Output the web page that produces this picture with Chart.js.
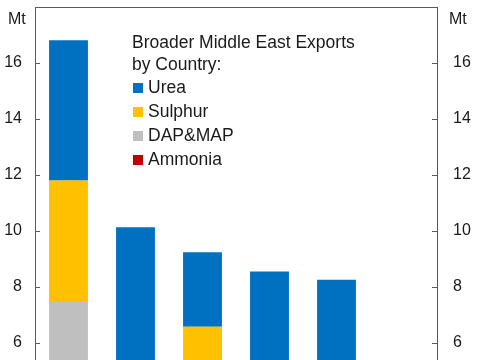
<!DOCTYPE html>
<html>
<head>
<meta charset="utf-8">
<script src="https://cdn.jsdelivr.net/npm/chart.js@4/dist/chart.umd.min.js"></script>
<style>
    html, body { margin: 0; padding: 0; background: #fff; }
    body { width: 485px; height: 360px; overflow: hidden; position: relative;
           font-family: 'Liberation Sans', Arial, sans-serif; color: #1a1a1a; }
    #c { position: absolute; left: 0; top: 0; }
    .unit { position: absolute; top: 11px; font-size: 16px; line-height: 16px; }
    #legend { position: absolute; left: 132px; top: 31px; font-size: 17.5px; }
    #legend .ttl { line-height: 22px; }
    #legend .item { line-height: 24px; position: relative; padding-left: 16px; }
    #legend .item span.box { position: absolute; left: 1px; top: 8px; width: 10px; height: 10px; }
</style>
</head>
<body>
<canvas id="c" width="485" height="531"></canvas>
<div class="unit" style="left:8px">Mt</div>
<div class="unit" style="left:449px">Mt</div>
<div id="legend"></div>
<script>
// --- Data (Mt) ---
const countries = ['Saudi Arabia', 'Qatar', 'UAE', 'Iran', 'Oman', 'Egypt'];
const urea    = [5.01, 5.60, 2.66, 4.90, 3.40, 2.60];
const sulphur = [4.34, 3.00, 5.50, 2.00, 3.36, 1.10];
const dapMap  = [4.26, 0.00, 0.78, 0.00, 1.10, 0.80];
const ammonia = [3.20, 1.53, 0.30, 1.65, 0.40, 0.30];

const legendTitle = ['Broader Middle East Exports', 'by Country:'];
const seriesNames = ['Urea', 'Sulphur', 'DAP&MAP', 'Ammonia'];
const seriesColors = ['#0070C0', '#FFC000', '#BFBFBF', '#C00000'];
const seriesData = [urea, sulphur, dapMap, ammonia];

const yMin = 0, yMax = 18, yStep = 2;
const frameColor = '#595959';

// --- Legend ---
const legend = document.getElementById('legend');
legendTitle.forEach(t => {
    const d = document.createElement('div');
    d.className = 'ttl';
    d.textContent = t;
    legend.appendChild(d);
});
seriesNames.forEach((name, i) => {
    const d = document.createElement('div');
    d.className = 'item';
    d.innerHTML = '<span class="box" style="background:' + seriesColors[i] + '"></span>';
    d.appendChild(document.createTextNode(name));
    legend.appendChild(d);
});

// stack order bottom-up: Ammonia, DAP&MAP, Sulphur, Urea
const datasets = [3, 2, 1, 0].map(i => ({
    label: seriesNames[i],
    data: seriesData[i],
    backgroundColor: seriesColors[i],
    borderWidth: 0,
    categoryPercentage: 1,
    barPercentage: 0.58
}));

// inward tick marks and top frame line
const framePlugin = {
    id: 'frame',
    afterDraw(chart) {
        const ctx = chart.ctx;
        const { top, left, right } = chart.chartArea;
        ctx.save();
        ctx.strokeStyle = frameColor;
        ctx.lineWidth = 1;
        ctx.beginPath();
        ctx.moveTo(left, top + 0.5);
        ctx.lineTo(right, top + 0.5);
        const yl = chart.scales.y, yr = chart.scales.y2;
        yl.ticks.forEach(t => {
            const p = Math.round(yl.getPixelForValue(t.value)) + 0.5;
            ctx.moveTo(left, p);
            ctx.lineTo(left + 5, p);
        });
        yr.ticks.forEach(t => {
            const p = Math.round(yr.getPixelForValue(t.value)) + 0.5;
            ctx.moveTo(right - 5, p);
            ctx.lineTo(right, p);
        });
        ctx.stroke();
        ctx.restore();
    }
};

Chart.defaults.font.family = "'Liberation Sans', Arial, sans-serif";
Chart.defaults.font.size = 16;
Chart.defaults.color = '#1a1a1a';

const tickLabel = v => (v === yMax ? null : v);

// fix axis width and drop label padding so the plot frame sits where it should
const fitAxis = w => scale => {
    scale.width = w;
    scale.paddingTop = 0;
    scale.paddingBottom = 0;
};

new Chart(document.getElementById('c'), {
    type: 'bar',
    data: { labels: countries, datasets: datasets },
    options: {
        responsive: false,
        animation: false,
        layout: { padding: { top: 7, bottom: 20, left: 0, right: 0 } },
        plugins: { legend: { display: false }, tooltip: { enabled: false } },
        scales: {
            x: { stacked: true, display: false },
            y: {
                stacked: true,
                min: yMin, max: yMax,
                ticks: { stepSize: yStep, padding: 13, callback: tickLabel },
                grid: { drawOnChartArea: false, drawTicks: false },
                border: { display: true, color: frameColor, width: 1 },
                afterFit: fitAxis(35)
            },
            y2: {
                position: 'right',
                min: yMin, max: yMax,
                ticks: { stepSize: yStep, padding: 16, callback: tickLabel },
                grid: { drawOnChartArea: false, drawTicks: false },
                border: { display: true, color: frameColor, width: 1 },
                afterFit: fitAxis(48)
            }
        }
    },
    plugins: [framePlugin]
});
</script>
</body>
</html>
